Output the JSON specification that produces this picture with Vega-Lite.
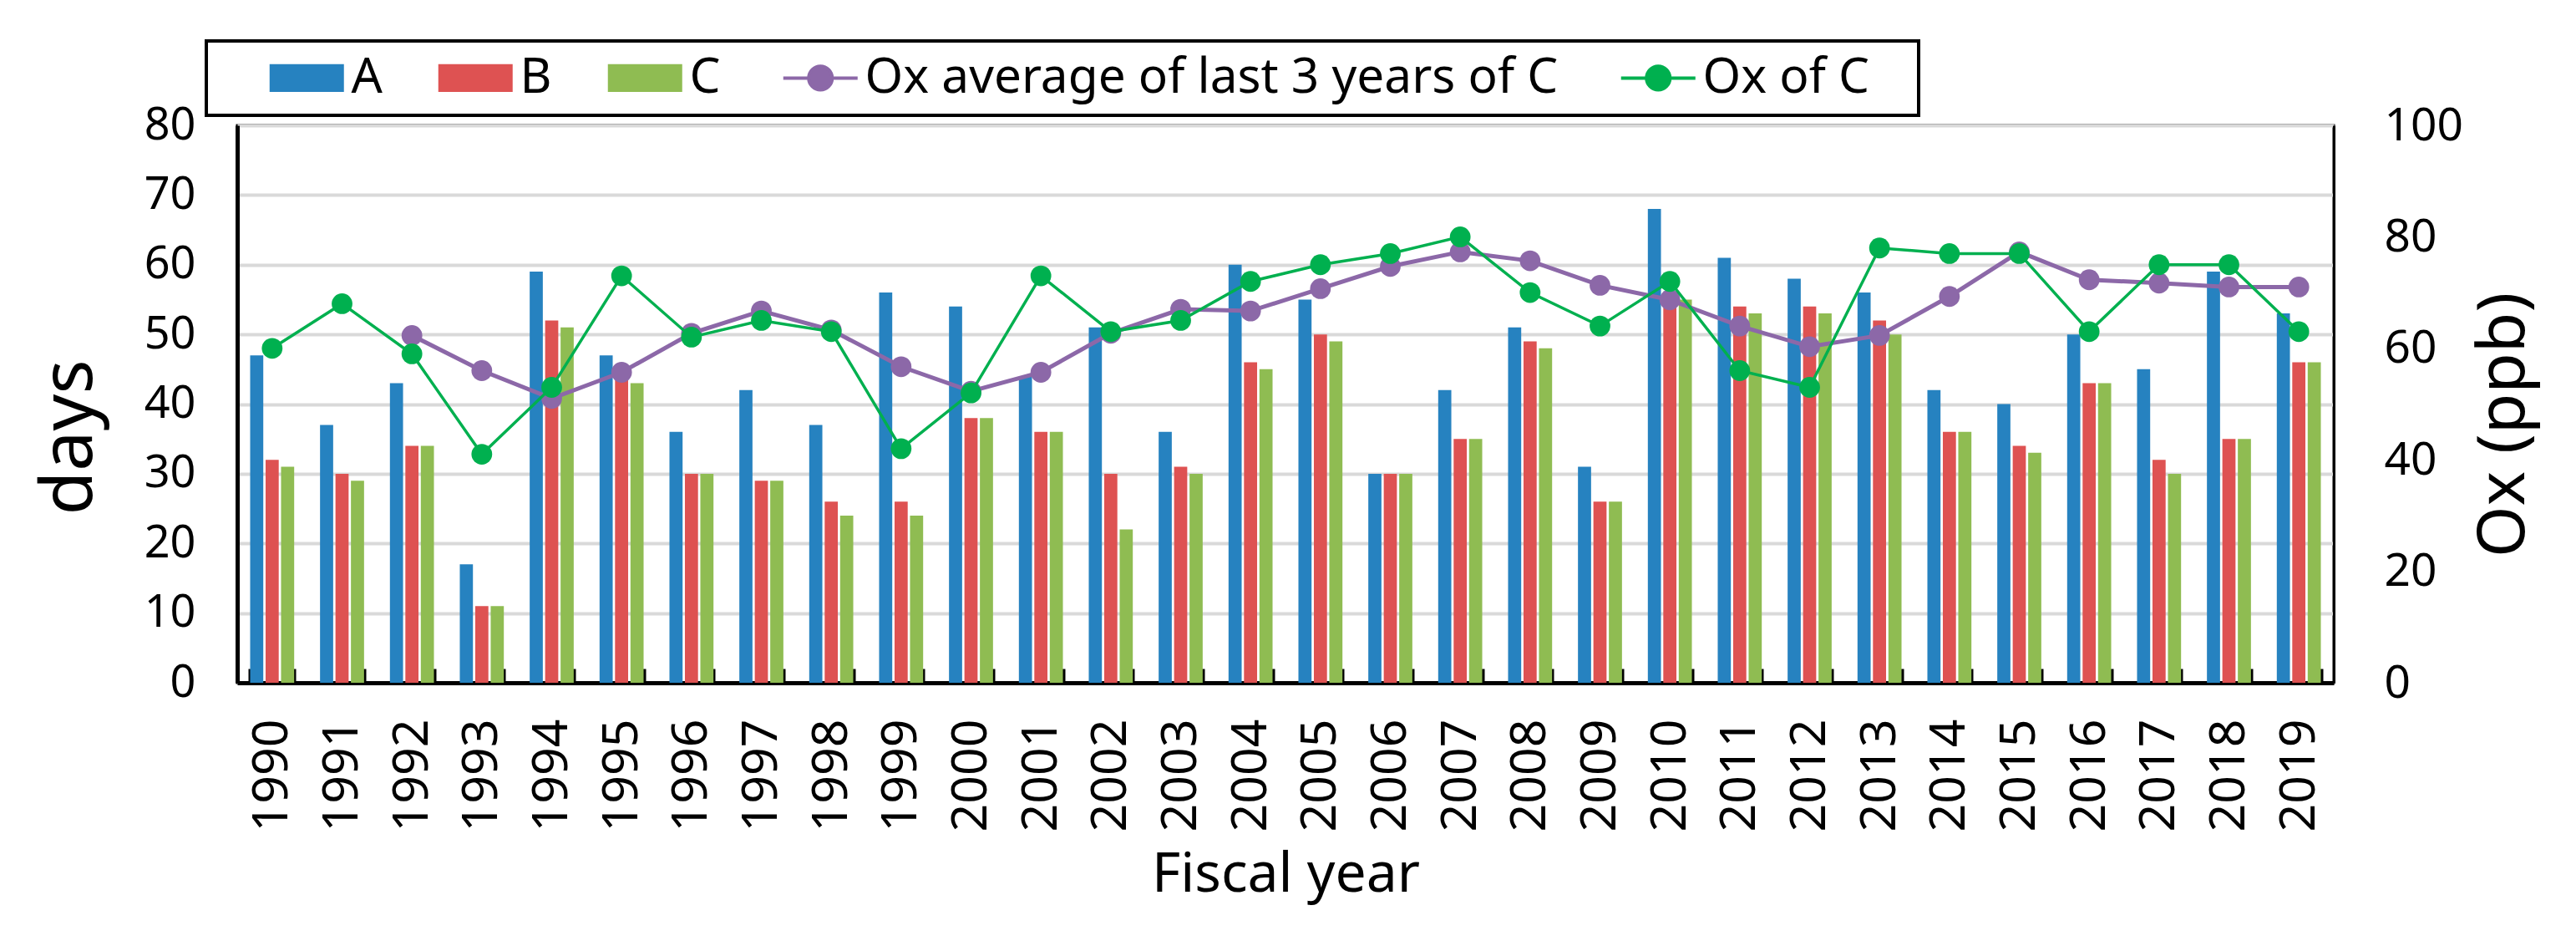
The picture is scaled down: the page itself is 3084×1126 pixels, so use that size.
{
  "$schema": "https://vega.github.io/schema/vega-lite/v6.json",
  "width": 2510,
  "height": 667,
  "autosize": "none",
  "padding": {"left": 284, "top": 150, "right": 290, "bottom": 309},
  "background": "white",
  "config": {
    "font": "Noto Sans",
    "view": {"stroke": "black", "strokeWidth": 3},
    "axis": {"labelColor": "black", "titleColor": "black", "titleFontWeight": "normal", "labelFont": "Noto Sans", "titleFont": "Noto Sans"}
  },
  "datasets": {
    "bars": [
      {"year": 1990, "series": "A", "days": 47}, {"year": 1990, "series": "B", "days": 32}, {"year": 1990, "series": "C", "days": 31},
      {"year": 1991, "series": "A", "days": 37}, {"year": 1991, "series": "B", "days": 30}, {"year": 1991, "series": "C", "days": 29},
      {"year": 1992, "series": "A", "days": 43}, {"year": 1992, "series": "B", "days": 34}, {"year": 1992, "series": "C", "days": 34},
      {"year": 1993, "series": "A", "days": 17}, {"year": 1993, "series": "B", "days": 11}, {"year": 1993, "series": "C", "days": 11},
      {"year": 1994, "series": "A", "days": 59}, {"year": 1994, "series": "B", "days": 52}, {"year": 1994, "series": "C", "days": 51},
      {"year": 1995, "series": "A", "days": 47}, {"year": 1995, "series": "B", "days": 44}, {"year": 1995, "series": "C", "days": 43},
      {"year": 1996, "series": "A", "days": 36}, {"year": 1996, "series": "B", "days": 30}, {"year": 1996, "series": "C", "days": 30},
      {"year": 1997, "series": "A", "days": 42}, {"year": 1997, "series": "B", "days": 29}, {"year": 1997, "series": "C", "days": 29},
      {"year": 1998, "series": "A", "days": 37}, {"year": 1998, "series": "B", "days": 26}, {"year": 1998, "series": "C", "days": 24},
      {"year": 1999, "series": "A", "days": 56}, {"year": 1999, "series": "B", "days": 26}, {"year": 1999, "series": "C", "days": 24},
      {"year": 2000, "series": "A", "days": 54}, {"year": 2000, "series": "B", "days": 38}, {"year": 2000, "series": "C", "days": 38},
      {"year": 2001, "series": "A", "days": 44}, {"year": 2001, "series": "B", "days": 36}, {"year": 2001, "series": "C", "days": 36},
      {"year": 2002, "series": "A", "days": 51}, {"year": 2002, "series": "B", "days": 30}, {"year": 2002, "series": "C", "days": 22},
      {"year": 2003, "series": "A", "days": 36}, {"year": 2003, "series": "B", "days": 31}, {"year": 2003, "series": "C", "days": 30},
      {"year": 2004, "series": "A", "days": 60}, {"year": 2004, "series": "B", "days": 46}, {"year": 2004, "series": "C", "days": 45},
      {"year": 2005, "series": "A", "days": 55}, {"year": 2005, "series": "B", "days": 50}, {"year": 2005, "series": "C", "days": 49},
      {"year": 2006, "series": "A", "days": 30}, {"year": 2006, "series": "B", "days": 30}, {"year": 2006, "series": "C", "days": 30},
      {"year": 2007, "series": "A", "days": 42}, {"year": 2007, "series": "B", "days": 35}, {"year": 2007, "series": "C", "days": 35},
      {"year": 2008, "series": "A", "days": 51}, {"year": 2008, "series": "B", "days": 49}, {"year": 2008, "series": "C", "days": 48},
      {"year": 2009, "series": "A", "days": 31}, {"year": 2009, "series": "B", "days": 26}, {"year": 2009, "series": "C", "days": 26},
      {"year": 2010, "series": "A", "days": 68}, {"year": 2010, "series": "B", "days": 56}, {"year": 2010, "series": "C", "days": 55},
      {"year": 2011, "series": "A", "days": 61}, {"year": 2011, "series": "B", "days": 54}, {"year": 2011, "series": "C", "days": 53},
      {"year": 2012, "series": "A", "days": 58}, {"year": 2012, "series": "B", "days": 54}, {"year": 2012, "series": "C", "days": 53},
      {"year": 2013, "series": "A", "days": 56}, {"year": 2013, "series": "B", "days": 52}, {"year": 2013, "series": "C", "days": 50},
      {"year": 2014, "series": "A", "days": 42}, {"year": 2014, "series": "B", "days": 36}, {"year": 2014, "series": "C", "days": 36},
      {"year": 2015, "series": "A", "days": 40}, {"year": 2015, "series": "B", "days": 34}, {"year": 2015, "series": "C", "days": 33},
      {"year": 2016, "series": "A", "days": 50}, {"year": 2016, "series": "B", "days": 43}, {"year": 2016, "series": "C", "days": 43},
      {"year": 2017, "series": "A", "days": 45}, {"year": 2017, "series": "B", "days": 32}, {"year": 2017, "series": "C", "days": 30},
      {"year": 2018, "series": "A", "days": 59}, {"year": 2018, "series": "B", "days": 35}, {"year": 2018, "series": "C", "days": 35},
      {"year": 2019, "series": "A", "days": 53}, {"year": 2019, "series": "B", "days": 46}, {"year": 2019, "series": "C", "days": 46}
    ],
    "lines": [
      {"year": 1992, "series": "Ox average of last 3 years of C", "ox": 62.3},
      {"year": 1993, "series": "Ox average of last 3 years of C", "ox": 56},
      {"year": 1994, "series": "Ox average of last 3 years of C", "ox": 51},
      {"year": 1995, "series": "Ox average of last 3 years of C", "ox": 55.7},
      {"year": 1996, "series": "Ox average of last 3 years of C", "ox": 62.7},
      {"year": 1997, "series": "Ox average of last 3 years of C", "ox": 66.7},
      {"year": 1998, "series": "Ox average of last 3 years of C", "ox": 63.3},
      {"year": 1999, "series": "Ox average of last 3 years of C", "ox": 56.7},
      {"year": 2000, "series": "Ox average of last 3 years of C", "ox": 52.3},
      {"year": 2001, "series": "Ox average of last 3 years of C", "ox": 55.7},
      {"year": 2002, "series": "Ox average of last 3 years of C", "ox": 62.7},
      {"year": 2003, "series": "Ox average of last 3 years of C", "ox": 67},
      {"year": 2004, "series": "Ox average of last 3 years of C", "ox": 66.7},
      {"year": 2005, "series": "Ox average of last 3 years of C", "ox": 70.7},
      {"year": 2006, "series": "Ox average of last 3 years of C", "ox": 74.7},
      {"year": 2007, "series": "Ox average of last 3 years of C", "ox": 77.3},
      {"year": 2008, "series": "Ox average of last 3 years of C", "ox": 75.7},
      {"year": 2009, "series": "Ox average of last 3 years of C", "ox": 71.3},
      {"year": 2010, "series": "Ox average of last 3 years of C", "ox": 68.7},
      {"year": 2011, "series": "Ox average of last 3 years of C", "ox": 64},
      {"year": 2012, "series": "Ox average of last 3 years of C", "ox": 60.3},
      {"year": 2013, "series": "Ox average of last 3 years of C", "ox": 62.3},
      {"year": 2014, "series": "Ox average of last 3 years of C", "ox": 69.3},
      {"year": 2015, "series": "Ox average of last 3 years of C", "ox": 77.3},
      {"year": 2016, "series": "Ox average of last 3 years of C", "ox": 72.3},
      {"year": 2017, "series": "Ox average of last 3 years of C", "ox": 71.7},
      {"year": 2018, "series": "Ox average of last 3 years of C", "ox": 71},
      {"year": 2019, "series": "Ox average of last 3 years of C", "ox": 71},
      {"year": 1990, "series": "Ox of C", "ox": 60},
      {"year": 1991, "series": "Ox of C", "ox": 68},
      {"year": 1992, "series": "Ox of C", "ox": 59},
      {"year": 1993, "series": "Ox of C", "ox": 41},
      {"year": 1994, "series": "Ox of C", "ox": 53},
      {"year": 1995, "series": "Ox of C", "ox": 73},
      {"year": 1996, "series": "Ox of C", "ox": 62},
      {"year": 1997, "series": "Ox of C", "ox": 65},
      {"year": 1998, "series": "Ox of C", "ox": 63},
      {"year": 1999, "series": "Ox of C", "ox": 42},
      {"year": 2000, "series": "Ox of C", "ox": 52},
      {"year": 2001, "series": "Ox of C", "ox": 73},
      {"year": 2002, "series": "Ox of C", "ox": 63},
      {"year": 2003, "series": "Ox of C", "ox": 65},
      {"year": 2004, "series": "Ox of C", "ox": 72},
      {"year": 2005, "series": "Ox of C", "ox": 75},
      {"year": 2006, "series": "Ox of C", "ox": 77},
      {"year": 2007, "series": "Ox of C", "ox": 80},
      {"year": 2008, "series": "Ox of C", "ox": 70},
      {"year": 2009, "series": "Ox of C", "ox": 64},
      {"year": 2010, "series": "Ox of C", "ox": 72},
      {"year": 2011, "series": "Ox of C", "ox": 56},
      {"year": 2012, "series": "Ox of C", "ox": 53},
      {"year": 2013, "series": "Ox of C", "ox": 78},
      {"year": 2014, "series": "Ox of C", "ox": 77},
      {"year": 2015, "series": "Ox of C", "ox": 77},
      {"year": 2016, "series": "Ox of C", "ox": 63},
      {"year": 2017, "series": "Ox of C", "ox": 75},
      {"year": 2018, "series": "Ox of C", "ox": 75},
      {"year": 2019, "series": "Ox of C", "ox": 63}
    ]
  },
  "layer": [
    {
      "data": {"name": "bars"},
      "mark": {"type": "bar"},
      "encoding": {
        "x": {
          "field": "year", "type": "ordinal",
          "scale": {"paddingInner": 0.37, "paddingOuter": 0.185},
          "axis": {
            "title": "Fiscal year", "titleFontSize": 66, "titlePadding": 20,
            "labelAngle": 270, "labelFontSize": 59, "labelPadding": 60,
            "tickBand": "extent", "tickSize": -17, "tickWidth": 4, "tickColor": "black",
            "domainColor": "black", "domainWidth": 5, "grid": false
          }
        },
        "xOffset": {"field": "series", "type": "nominal", "scale": {"paddingInner": 0.15, "paddingOuter": 0}},
        "y": {
          "field": "days", "type": "quantitative",
          "scale": {"domain": [0, 80], "nice": false},
          "axis": {
            "title": "days", "titleFontSize": 86, "titlePadding": 45, "titleY": 373,
            "labelFontSize": 54, "labelPadding": 50, "ticks": false,
            "values": [0, 10, 20, 30, 40, 50, 60, 70, 80],
            "grid": true, "gridColor": "#D9D9D9", "gridWidth": 4,
            "domainColor": "black", "domainWidth": 5
          }
        },
        "color": {
          "field": "series", "type": "nominal",
          "scale": {
            "domain": ["A", "B", "C", "Ox average of last 3 years of C", "Ox of C"],
            "range": ["#2682C0", "#DE5252", "#8FBC52", "#8C68A8", "#00B04F"]
          },
          "legend": {
            "title": "\u00a0", "titleOrient": "left", "titleFontSize": 1, "titlePadding": 76,
            "orient": "none", "legendX": -37, "legendY": -101,
            "direction": "horizontal", "columns": 5,
            "labelFontSize": 58.5, "labelFont": "Noto Sans", "labelColor": "black", "labelLimit": 2000,
            "labelExpr": "datum.label == 'Ox of C' ? 'Ox of C\u2800' : datum.label",
            "labelOffset": 24, "columnPadding": 66, "padding": 15,
            "symbolSize": 7921, "symbolStrokeWidth": 4,
            "encode": {
              "legend": {
                "update": {
                  "stroke": {"value": "black"},
                  "strokeWidth": {"value": 4}
                }
              },
              "symbols": {
                "update": {
                  "shape": {"signal": "indexof(['A','B','C'], datum.value) >= 0 ? 'M-1,-0.371H1V0.371H-1Z' : 'M-1,0H1M0.315,0A0.315,0.315,0,1,1,-0.315,0A0.315,0.315,0,1,1,0.315,0Z'"},
                  "fill": {"signal": "scale('color', datum.value)"},
                  "stroke": {"signal": "scale('color', datum.value)"},
                  "strokeWidth": {"signal": "indexof(['A','B','C'], datum.value) >= 0 ? 0 : 4"},
                  "opacity": {"value": 1},
                  "fillOpacity": {"value": 1},
                  "strokeOpacity": {"value": 1}
                }
              }
            }
          }
        }
      }
    },
    {
      "data": {"name": "lines"},
      "encoding": {
        "x": {"field": "year", "type": "ordinal"},
        "y": {
          "field": "ox", "type": "quantitative",
          "scale": {"domain": [0, 100], "nice": false},
          "axis": {
            "orient": "right", "title": "Ox (ppb)", "titleFontSize": 79, "titleAngle": 270,
            "titlePadding": 90, "titleY": 358,
            "labelFontSize": 55, "labelPadding": 60, "ticks": false,
            "values": [0, 20, 40, 60, 80, 100], "grid": false,
            "domainColor": "black", "domainWidth": 3
          }
        },
        "color": {"field": "series", "type": "nominal"}
      },
      "layer": [
        {"transform": [{"filter": "datum.series == 'Ox average of last 3 years of C'"}], "mark": {"type": "line", "strokeWidth": 5}},
        {"transform": [{"filter": "datum.series == 'Ox average of last 3 years of C'"}], "mark": {"type": "point", "filled": true, "size": 615, "opacity": 1}},
        {"transform": [{"filter": "datum.series == 'Ox of C'"}], "mark": {"type": "line", "strokeWidth": 3.5}},
        {"transform": [{"filter": "datum.series == 'Ox of C'"}], "mark": {"type": "point", "filled": true, "size": 615, "opacity": 1}}
      ]
    }
  ],
  "resolve": {"scale": {"y": "independent"}}
}
